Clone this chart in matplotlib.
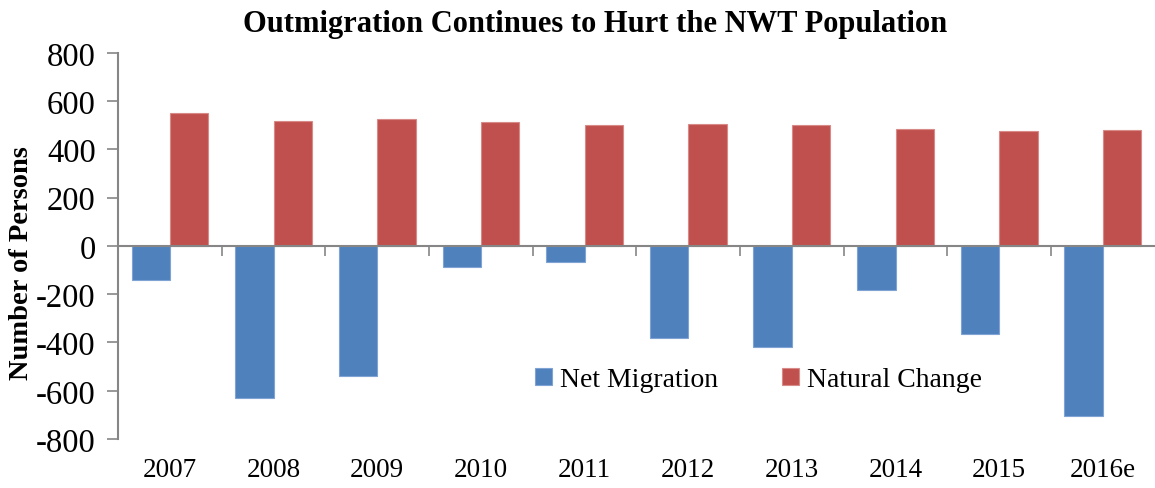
import matplotlib

matplotlib.use("Agg")
import matplotlib.pyplot as plt
import matplotlib.transforms as mtransforms
import numpy as np

years = ["2007", "2008", "2009", "2010", "2011", "2012", "2013", "2014", "2015", "2016e"]
net_migration = [-142, -630, -540, -88, -68, -381, -419, -184, -363, -705]
natural_change = [551, 520, 525, 515, 503, 506, 502, 485, 477, 479]

BLUE = "#4F81BD"
RED = "#C0504D"
AXIS = "#868686"

plt.rcParams["font.family"] = ["Liberation Serif", "DejaVu Serif"]
plt.rcParams["axes.unicode_minus"] = False

fig = plt.figure(figsize=(11.55, 4.89), dpi=100)
ax = fig.add_axes([0.1022, 0.1002, 0.8975, 0.7894])

x = np.arange(len(years))
w = 0.37
ax.bar(x - w / 2, net_migration, w, color=BLUE, edgecolor="#7FA3D3", linewidth=0.8,
       label="Net Migration", zorder=2)
ax.bar(x + w / 2, natural_change, w, color=RED, edgecolor="#D88A88", linewidth=0.8,
       label="Natural Change", zorder=2)

ax.set_xlim(-0.5, len(years) - 0.5)
ax.set_ylim(-800, 800)
ax.set_yticks(range(-800, 801, 200))
ax.tick_params(axis="y", direction="out", length=8, width=1.2, color=AXIS,
               labelsize=23.5, pad=8)

# zero line acts as the category axis, ticks between categories
ax.spines["bottom"].set_position(("data", 0))
ax.spines["bottom"].set_color(AXIS)
ax.spines["bottom"].set_linewidth(1.5)
ax.spines["bottom"].set_zorder(3)
ax.set_xticks(x[:-1] + 0.5)
ax.set_xticklabels([])
ax.tick_params(axis="x", direction="out", length=7, width=1.2, color=AXIS)
ax.spines["left"].set_color(AXIS)
ax.spines["left"].set_linewidth(1.5)
ax.spines["top"].set_visible(False)
ax.spines["right"].set_visible(False)

trans = mtransforms.blended_transform_factory(ax.transData, ax.transAxes)
for xi, lab in zip(x, years):
    ax.text(xi, -0.08, lab, transform=trans, ha="center", va="center", fontsize=19.5)

ax.set_ylabel("Number of Persons", fontsize=20.5, fontweight="bold")
ax.yaxis.set_label_coords(-0.081, 0.459)
fig.suptitle("Outmigration Continues to Hurt the NWT Population", fontsize=22,
             fontweight="bold", x=0.515, y=0.98)

ax.legend(loc="center", bbox_to_anchor=(0.618, 0.153), ncol=2, frameon=False,
          fontsize=20, handlelength=0.6, handleheight=0.6, handletextpad=0.3,
          columnspacing=2.3)

fig.savefig("out.png")
